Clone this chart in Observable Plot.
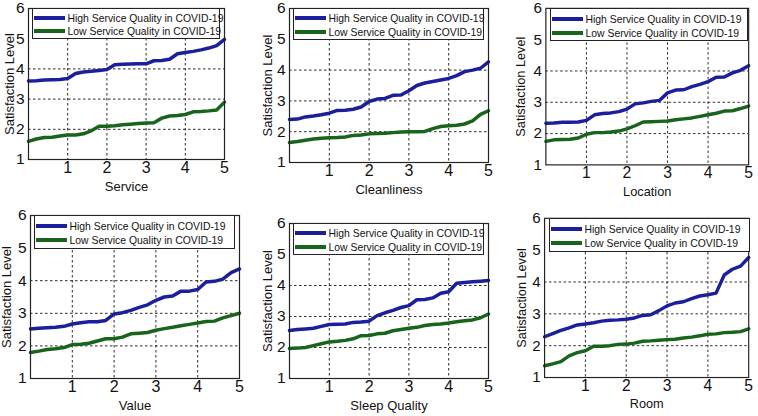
<!DOCTYPE html>
<html>
<head>
<meta charset="utf-8">
<script src="https://cdn.jsdelivr.net/npm/d3@7"></script>
<script src="https://cdn.jsdelivr.net/npm/@observablehq/plot@0.6"></script>
<style>
  html, body { margin: 0; padding: 0; background: white; }
  #root { position: relative; width: 758px; height: 416px; overflow: hidden; font-family: "Liberation Sans", Arial, sans-serif; }
  .panel { position: absolute; }
  .panel svg { overflow: visible; }
  .legend { position: absolute; box-sizing: border-box; background: white; border: 1px solid #222; font-size: 10.4px; color: #111; }
  .legend .row { position: absolute; left: 1px; height: 12px; display: flex; align-items: center; white-space: nowrap; }
  .legend .sw { width: 31px; height: 4px; margin-right: 2.5px; }
</style>
</head>
<body>
<div id="root"></div>
<script>
// ---- data ----
const xs = [0, 0.2, 0.4, 0.6, 0.8, 1.0, 1.2, 1.4, 1.6, 1.8, 2.0, 2.2, 2.4, 2.6, 2.8, 3.0, 3.2, 3.4, 3.6, 3.8, 4.0, 4.2, 4.4, 4.6, 4.8, 5.0];
const xTicks = [1, 2, 3, 4, 5];
const yTicks = [1, 2, 3, 4, 5, 6];
const seriesNames = ["High Service Quality in COVID-19", "Low Service Quality in COVID-19"];
const categories = ["Service", "Cleanliness", "Location", "Value", "Sleep Quality", "Room"];

const serviceHigh = [3.60,3.61,3.63,3.64,3.65,3.68,3.85,3.90,3.92,3.95,3.98,4.14,4.15,4.16,4.17,4.17,4.27,4.28,4.32,4.50,4.54,4.58,4.63,4.69,4.77,4.98];
const serviceLow  = [1.60,1.68,1.73,1.74,1.78,1.81,1.81,1.85,1.95,2.10,2.10,2.12,2.15,2.17,2.19,2.21,2.22,2.37,2.44,2.46,2.49,2.58,2.59,2.61,2.64,2.90];
const cleanHigh   = [2.40,2.41,2.48,2.51,2.55,2.60,2.69,2.70,2.73,2.80,2.98,3.06,3.08,3.18,3.19,3.33,3.50,3.58,3.63,3.68,3.73,3.82,3.95,4.00,4.06,4.27];
const cleanLow    = [1.65,1.68,1.72,1.76,1.79,1.80,1.81,1.83,1.88,1.89,1.93,1.94,1.95,1.97,1.99,2.00,2.00,2.01,2.10,2.17,2.19,2.21,2.25,2.35,2.56,2.68];
const locHigh     = [2.33,2.34,2.36,2.36,2.37,2.42,2.60,2.64,2.66,2.70,2.78,2.95,2.98,3.03,3.06,3.30,3.39,3.40,3.50,3.57,3.66,3.80,3.81,3.94,4.02,4.17];
const locLow      = [1.75,1.80,1.81,1.82,1.86,1.98,2.03,2.03,2.05,2.08,2.15,2.25,2.37,2.38,2.39,2.40,2.44,2.47,2.50,2.55,2.60,2.65,2.72,2.73,2.80,2.88];
const valueHigh   = [2.52,2.54,2.56,2.57,2.60,2.67,2.71,2.74,2.74,2.78,2.98,3.02,3.09,3.18,3.26,3.40,3.50,3.53,3.68,3.68,3.73,3.96,3.98,4.05,4.25,4.36];
const valueLow    = [1.80,1.84,1.89,1.91,1.95,2.04,2.05,2.08,2.15,2.22,2.22,2.27,2.37,2.39,2.41,2.48,2.53,2.57,2.62,2.66,2.70,2.75,2.76,2.86,2.93,3.00];
const sleepHigh   = [2.55,2.58,2.60,2.62,2.68,2.74,2.75,2.76,2.81,2.82,2.85,3.03,3.12,3.20,3.29,3.35,3.54,3.55,3.60,3.75,3.80,4.07,4.10,4.12,4.14,4.16];
const sleepLow    = [1.97,1.98,2.00,2.06,2.12,2.18,2.20,2.23,2.28,2.38,2.39,2.44,2.46,2.54,2.58,2.62,2.65,2.71,2.74,2.76,2.79,2.83,2.86,2.89,2.96,3.08];
const roomHigh    = [2.28,2.38,2.48,2.56,2.65,2.68,2.72,2.77,2.80,2.81,2.83,2.87,2.95,2.97,3.10,3.25,3.34,3.38,3.48,3.56,3.60,3.65,4.22,4.40,4.50,4.77];
const roomLow     = [1.37,1.43,1.50,1.68,1.78,1.84,1.98,1.98,2.00,2.04,2.05,2.08,2.14,2.15,2.17,2.19,2.20,2.24,2.27,2.31,2.36,2.37,2.41,2.42,2.44,2.53];

const highSeries = [serviceHigh, cleanHigh, locHigh, valueHigh, sleepHigh, roomHigh];
const lowSeries  = [serviceLow, cleanLow, locLow, valueLow, sleepLow, roomLow];

// ---- layout (frame position in page pixels) ----
const layout = [
  {left: 28,  top: 8,   w: 196, h: 151, yl: -19},
  {left: 289, top: 8,   w: 199, h: 154, yl: -22},
  {left: 546, top: 8,   w: 206, h: 159, yl: -25},
  {left: 30,  top: 215, w: 209, h: 163, yl: -24},
  {left: 289, top: 223, w: 199, h: 155, yl: -22},
  {left: 545, top: 218, w: 209, h: 163, yl: -23}
];
const colors = ["#1c1f9c", "#17641b"];
const M = {l: 40, r: 10, t: 8, b: 45};

const root = document.getElementById("root");

categories.forEach((cat, i) => {
  const L = layout[i];
  const highRows = xs.map((x, j) => ({x, y: highSeries[i][j], s: seriesNames[0]}));
  const lowRows = xs.map((x, j) => ({x, y: lowSeries[i][j], s: seriesNames[1]}));

  const plot = Plot.plot({
    width: L.w + M.l + M.r,
    height: L.h + M.t + M.b,
    marginLeft: M.l, marginRight: M.r, marginTop: M.t, marginBottom: M.b,
    style: {fontFamily: "'Liberation Sans', Arial, sans-serif", fontSize: "16px", background: "transparent", color: "#111", overflow: "visible"},
    x: {domain: [0, 5]},
    y: {domain: [1, 6]},
    marks: [
      Plot.gridX(xTicks.slice(0, 4), {stroke: "#111", strokeOpacity: 1, strokeDasharray: "2.5,2.5", strokeWidth: 0.9}),
      Plot.gridY(yTicks.slice(1, 4), {stroke: "#111", strokeOpacity: 1, strokeDasharray: "2.5,2.5", strokeWidth: 0.9}),
      Plot.line(lowRows, {x: "x", y: "y", stroke: colors[1], strokeWidth: 3.5}),
      Plot.line(highRows, {x: "x", y: "y", stroke: colors[0], strokeWidth: 3.5}),
      Plot.frame({stroke: "#222", strokeWidth: 1.2}),
      Plot.axisY({ticks: yTicks, tickFormat: "d", tickSize: 0, tickPadding: 4, fontSize: 15.5, label: null}),
      Plot.axisX({ticks: xTicks, tickFormat: "d", tickSize: 0, tickPadding: 2, fontSize: 16, label: null}),
      Plot.text([cat], {frameAnchor: "bottom", dy: 27, lineAnchor: "middle", textAnchor: "middle", fontSize: 13, fill: "#111"}),
      Plot.text(["Satisfaction Level"], {frameAnchor: "left", dx: L.yl, rotate: -90, lineAnchor: "middle", textAnchor: "middle", fontSize: 13, fill: "#111"})
    ]
  });

  const div = document.createElement("div");
  div.className = "panel";
  div.style.left = (L.left - M.l) + "px";
  div.style.top = (L.top - M.t) + "px";
  div.appendChild(plot);

  // legend box covering y from 6 down to 5
  const leg = document.createElement("div");
  leg.className = "legend";
  const bandH = L.h / 5;
  leg.style.left = (M.l + 4) + "px";
  leg.style.top = (M.t) + "px";
  leg.style.width = (L.w - 8) + "px";
  leg.style.height = Math.round(bandH + 1) + "px";
  seriesNames.forEach((name, k) => {
    const row = document.createElement("div");
    row.className = "row";
    row.style.top = Math.round((k === 0 ? bandH * 0.3 : bandH * 0.74) - 6) + "px";
    const sw = document.createElement("span");
    sw.className = "sw";
    sw.style.background = colors[k];
    const t = document.createElement("span");
    t.textContent = name;
    row.appendChild(sw);
    row.appendChild(t);
    leg.appendChild(row);
  });
  div.appendChild(leg);
  root.appendChild(div);
});
</script>
</body>
</html>
